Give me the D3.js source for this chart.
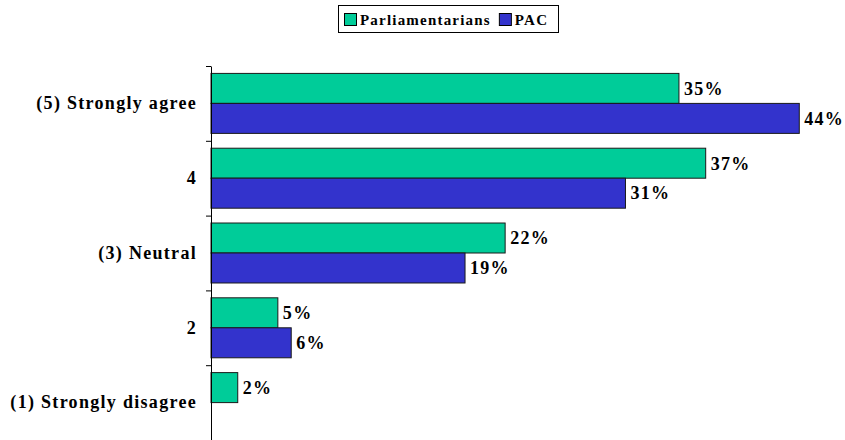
<!DOCTYPE html>
<html>
<head>
<meta charset="utf-8">
<script src="https://cdn.jsdelivr.net/npm/d3@7"></script>
<style>
  body { margin: 0; background: #fff; }
</style>
</head>
<body>
<div id="chart"></div>
<script>
// Chart data
const categories = ['(5) Strongly agree', '4', '(3) Neutral', '2', '(1) Strongly disagree'];
const seriesNames = ['Parliamentarians', 'PAC'];
const parliamentarians = [35, 37, 22, 5, 2];
const pac = [44, 31, 19, 6, 0];
const seriesColors = ['#00CC99', '#3333CC'];

const FONT = "'Times New Roman', 'Liberation Serif', 'DejaVu Serif', serif";
const width = 845, height = 440;
const margin = { top: 66, right: 0, bottom: 0, left: 211 };

const svg = d3.select('#chart')
    .append('svg')
    .attr('width', width)
    .attr('height', height)
    .attr('font-family', FONT)
    .attr('font-weight', 'bold');

// Scales
const x = d3.scaleLinear()
    .domain([0, 50])
    .range([margin.left, margin.left + 50 * 13.37]);

const y = d3.scaleBand()
    .domain(categories)
    .range([margin.top, height])
    .paddingInner(0)
    .paddingOuter(0);

const ySub = d3.scaleBand()
    .domain(seriesNames)
    .range([0, y.bandwidth()])
    .paddingInner(0)
    .paddingOuter(0.247);

const rows = categories.map((c, i) => ({
    category: c,
    values: [
        { series: seriesNames[0], value: parliamentarians[i] },
        { series: seriesNames[1], value: pac[i] }
    ]
}));

const color = d3.scaleOrdinal().domain(seriesNames).range(seriesColors);

// Bars
const groups = svg.selectAll('.row')
    .data(rows)
    .enter()
    .append('g')
    .attr('class', 'row')
    .attr('transform', d => `translate(0, ${y(d.category)})`);

groups.selectAll('rect')
    .data(d => d.values.filter(v => v.value > 0))
    .enter()
    .append('rect')
    .attr('x', x(0))
    .attr('y', d => ySub(d.series))
    .attr('width', d => x(d.value) - x(0))
    .attr('height', ySub.bandwidth())
    .attr('fill', d => color(d.series))
    .attr('stroke', '#1a1a1a')
    .attr('stroke-width', 1);

// Value labels
groups.selectAll('.val')
    .data(d => d.values.filter(v => v.value > 0))
    .enter()
    .append('text')
    .attr('class', 'val')
    .attr('x', d => x(d.value) + 5)
    .attr('y', d => ySub(d.series) + ySub.bandwidth() / 2)
    .attr('dy', '0.35em')
    .style('font-size', '18px')
    .style('letter-spacing', '1.3px')
    .text(d => d.value + '%');

// Y axis
const yAxis = d3.axisLeft(y).tickSize(0).tickPadding(14);
const axisG = svg.append('g')
    .attr('transform', `translate(${margin.left}, 0)`)
    .call(yAxis)
    .attr('font-family', FONT)
    .attr('font-weight', 'bold');
axisG.select('.domain').attr('stroke', '#000');
axisG.selectAll('text')
    .attr('fill', '#000')
    .style('font-size', '18px')
    .style('letter-spacing', '1.3px');

// band boundary ticks
svg.selectAll('.btick')
    .data(categories)
    .enter()
    .append('line')
    .attr('class', 'btick')
    .attr('x1', margin.left - 5)
    .attr('x2', margin.left)
    .attr('y1', d => y(d) + 0.5)
    .attr('y2', d => y(d) + 0.5)
    .attr('stroke', '#000');

// Legend
const legend = svg.append('g').attr('transform', 'translate(338, 5)');
legend.append('rect')
    .attr('x', 0.5).attr('y', 0.5)
    .attr('width', 220).attr('height', 27)
    .attr('fill', '#fff')
    .attr('stroke', '#000');

let lx = 6;
seriesNames.forEach((s, i) => {
    legend.append('rect')
        .attr('x', lx + 0.5).attr('y', 8.5)
        .attr('width', 12).attr('height', 12)
        .attr('fill', color(s))
        .attr('stroke', '#000');
    const t = legend.append('text')
        .attr('x', lx + 16)
        .attr('y', 14.5)
        .attr('dy', '0.35em')
        .style('font-size', '15px')
        .style('letter-spacing', '1.2px')
        .text(s);
    lx += 16 + t.node().getComputedTextLength() + 8;
});
</script>
</body>
</html>
